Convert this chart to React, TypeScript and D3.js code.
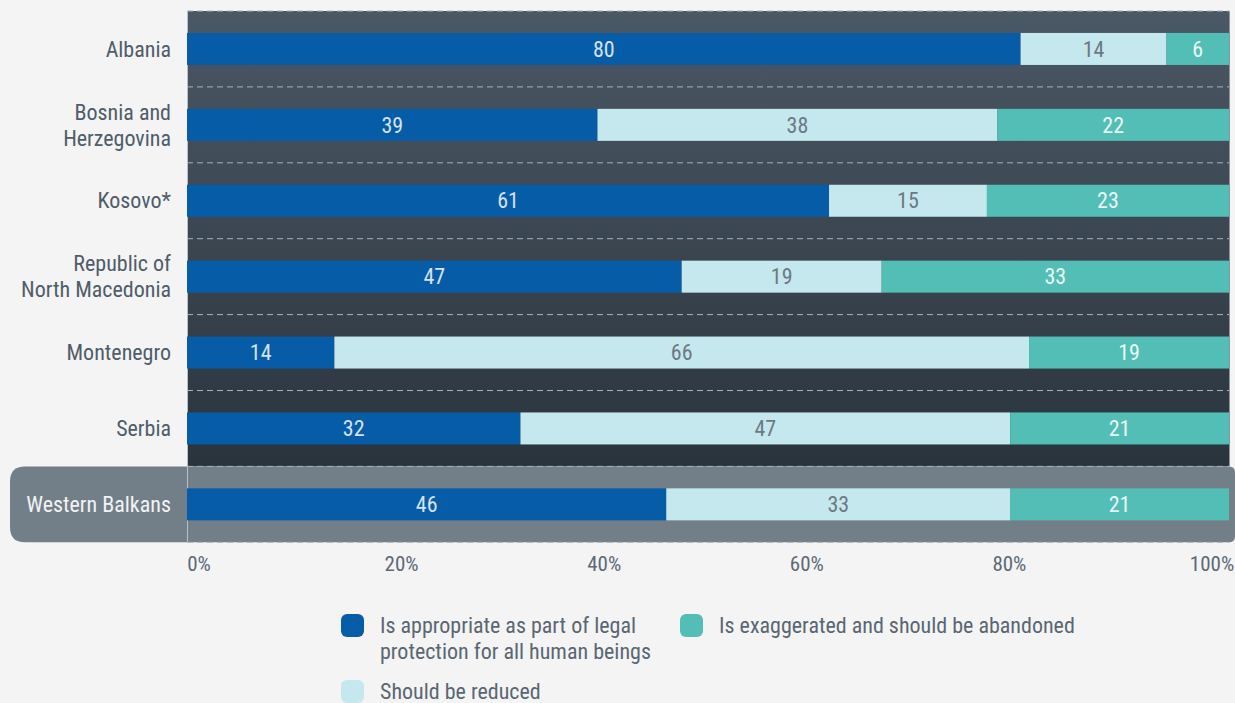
import React from "react";
import * as d3 from "d3";

const countries = [
  ["Albania"],
  ["Bosnia and", "Herzegovina"],
  ["Kosovo*"],
  ["Republic of", "North Macedonia"],
  ["Montenegro"],
  ["Serbia"],
  ["Western Balkans"],
];
const appropriate = [80, 39, 61, 47, 14, 32, 46];
const reduced = [14, 38, 15, 19, 66, 47, 33];
const abandoned = [6, 22, 23, 33, 19, 21, 21];
const ticks = [0, 20, 40, 60, 80, 100];
const seriesNames = [
  ["Is appropriate as part of legal", "protection for all human beings"],
  ["Should be reduced"],
  ["Is exaggerated and should be abandoned"],
];
const colors = ["#075ca8", "#c5e8ee", "#53beb5"];
const textColors = ["#d5e2f0", "#6c7984", "#eaf7f5"];

const W = 1235;
const H = 703;
const FONT = "'Roboto Condensed', 'Liberation Sans Narrow', Roboto, sans-serif";

export default function App() {
  const left = 187;
  const right = 1229;
  const top = 11;
  const bandH = 75.9;
  const n = countries.length;
  const x = d3.scaleLinear().domain([0, 100]).range([left, right]);
  const xLabel = d3.scaleLinear().domain([0, 100]).range([left + 12, right - 17]);
  const y = d3
    .scaleBand<number>()
    .domain(d3.range(n))
    .range([top, top + bandH * n])
    .paddingInner(0)
    .paddingOuter(0);
  const barH = 32;
  const series = [appropriate, reduced, abandoned];
  const rows = d3.range(n).map((i) => {
    const vals = series.map((s) => s[i]);
    const total = d3.sum(vals);
    let acc = 0;
    return vals.map((v, k) => {
      const x0 = (acc / total) * 100;
      acc += v;
      const x1 = (acc / total) * 100;
      return { v, k, x0, x1 };
    });
  });
  const plotBottom = (y(n - 2) as number) + bandH;
  const wbTop = y(n - 1) as number;
  const wbBot = wbTop + bandH;
  const r1 = 15;
  const r2 = 6;
  const boxL = 10;
  const boxR = 1235;
  const boxPath = `M${boxL + r1},${wbTop} H${boxR - r2} Q${boxR},${wbTop} ${boxR},${wbTop + r2} V${wbBot - r2} Q${boxR},${wbBot} ${boxR - r2},${wbBot} H${boxL + r1} Q${boxL},${wbBot} ${boxL},${wbBot - r1} V${wbTop + r1} Q${boxL},${wbTop} ${boxL + r1},${wbTop} Z`;

  const legendItems = [
    { k: 0, x: 341, y: 614 },
    { k: 2, x: 680, y: 614 },
    { k: 1, x: 341, y: 680 },
  ];

  return (
    <svg
      width={W}
      height={H}
      style={{ position: "absolute", left: 0, top: 0, fontFamily: FONT }}
    >
      <defs>
        <linearGradient id="bg" x1="0" y1="0" x2="0" y2="1">
          <stop offset="0%" stopColor="#4b5865" />
          <stop offset="100%" stopColor="#2a343d" />
        </linearGradient>
      </defs>
      <rect width={W} height={H} fill="#f4f4f4" />
      <rect x={left} y={top} width={right - left} height={plotBottom - top} fill="url(#bg)" />
      <path d={boxPath} fill="#737f88" />
      {d3.range(n + 1).map((i) => {
        const yy = top + bandH * i;
        return (
          <line
            key={i}
            x1={left}
            x2={right}
            y1={yy}
            y2={yy}
            stroke="#a9b1b8"
            strokeWidth={1}
            strokeDasharray="6,4"
          />
        );
      })}
      <line x1={left + 0.5} x2={left + 0.5} y1={top} y2={wbBot} stroke="#b9c0c6" strokeWidth={1} />
      <line x1={right + 0.5} x2={right + 0.5} y1={top} y2={plotBottom} stroke="#8c959d" strokeWidth={1} />
      {rows.map((segs, i) => {
        const cy = (y(i) as number) + y.bandwidth() / 2;
        return (
          <g key={i}>
            {segs.map((s) => (
              <g key={s.k}>
                <rect
                  x={x(s.x0)}
                  y={cy - barH / 2}
                  width={x(s.x1) - x(s.x0)}
                  height={barH}
                  fill={colors[s.k]}
                  stroke="none"
                />
                <text
                  x={(x(s.x0) + x(s.x1)) / 2}
                  y={cy}
                  dy="0.35em"
                  textAnchor="middle"
                  fontSize={22}
                  fill={textColors[s.k]}
                >
                  {s.v}
                </text>
              </g>
            ))}
          </g>
        );
      })}
      {countries.map((lines, i) => {
        const cy = (y(i) as number) + y.bandwidth() / 2;
        const lh = 26;
        const start = cy - ((lines.length - 1) * lh) / 2;
        return (
          <text
            key={i}
            x={171}
            textAnchor="end"
            fontSize={22}
            fill={i === n - 1 ? "#f1f3f5" : "#4f5c69"}
          >
            {lines.map((l, j) => (
              <tspan key={j} x={171} y={start + j * lh} dy="0.35em">
                {l}
              </tspan>
            ))}
          </text>
        );
      })}
      {ticks.map((t) => (
        <text
          key={t}
          x={xLabel(t)}
          y={564}
          dy="0.35em"
          textAnchor="middle"
          fontSize={21}
          fill="#5d6975"
        >
          {t}%
        </text>
      ))}
      {legendItems.map((it) => (
        <g key={it.k}>
          <rect x={it.x} y={it.y} width={23} height={23} rx={6} fill={colors[it.k]} />
          <text fontSize={22} fill="#5a6672">
            {seriesNames[it.k].map((l, j) => (
              <tspan key={j} x={it.x + 39} y={it.y + 11 + j * 26} dy="0.35em">
                {l}
              </tspan>
            ))}
          </text>
        </g>
      ))}
    </svg>
  );
}
